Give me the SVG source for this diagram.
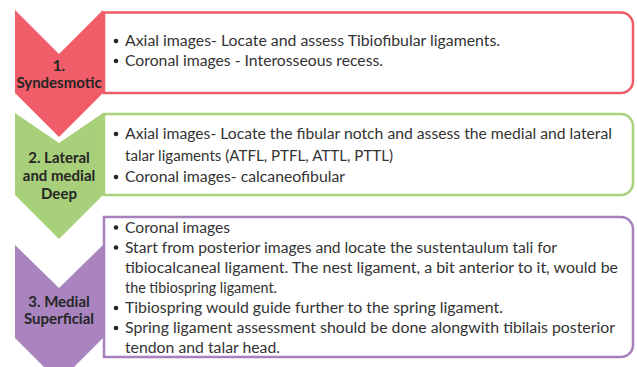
<svg xmlns="http://www.w3.org/2000/svg" width="637" height="367" viewBox="0 0 637 367">
<style>
.box{fill:#fff;stroke-width:2.5}
.body{font-family:Lato,"Liberation Sans",sans-serif;font-size:14.5px;fill:#333}
.lbl{font-family:Lato,"Liberation Sans",sans-serif;font-size:15px;font-weight:bold;fill:#262626;text-anchor:middle}
.dot{fill:#262626}
</style>
<rect width="637" height="367" fill="#fff"/>
<g id="step1">
<polygon points="15,10 59,54 103,10 103,93 59,137 15,93" fill="#F05C68"/>
<path class="box" stroke="#EF5B66" d="M104,12.5 H621 A12,12 0 0 1 633,24.5 V81 A12,12 0 0 1 621,93 H104 Z"/>
<text class="lbl" x="59" y="70.5">1.</text>
<text class="lbl" x="59" y="87.5">Syndesmotic</text>
<circle class="dot" cx="116" cy="41" r="2.3"/>
<circle class="dot" cx="116" cy="61" r="2.3"/>
<text class="body" x="125" y="46" textLength="375" lengthAdjust="spacingAndGlyphs">Axial images- Locate and assess Tibiofibular ligaments.</text>
<text class="body" x="125" y="66" textLength="258" lengthAdjust="spacingAndGlyphs">Coronal images - Interosseous recess.</text>
</g>
<g id="step2">
<polygon points="15,113 59,143 103,113 103,195 59,239 15,195" fill="#A8CF79"/>
<path class="box" stroke="#A9D17A" d="M104,114 H621 A12,12 0 0 1 633,126 V183 A12,12 0 0 1 621,195 H104 Z"/>
<text class="lbl" x="59" y="163">2. Lateral</text>
<text class="lbl" x="59" y="181">and medial</text>
<text class="lbl" x="59" y="199">Deep</text>
<circle class="dot" cx="116" cy="134" r="2.3"/>
<circle class="dot" cx="116" cy="177" r="2.3"/>
<text class="body" x="125" y="139" textLength="487" lengthAdjust="spacingAndGlyphs">Axial images- Locate the fibular notch and assess the medial and lateral</text>
<text class="body" x="125" y="160.5" textLength="268" lengthAdjust="spacingAndGlyphs">talar ligaments (ATFL, PTFL, ATTL, PTTL)</text>
<text class="body" x="125" y="182" textLength="220" lengthAdjust="spacingAndGlyphs">Coronal images- calcaneofibular</text>
</g>
<g id="step3">
<polygon points="15,245 59,288 103,245 103,338 59,382 15,338" fill="#A984BF"/>
<path class="box" stroke="#A781BD" d="M104,217 H621 A12,12 0 0 1 633,229 V345 A12,12 0 0 1 621,357 H104 Z"/>
<text class="lbl" x="59" y="306.5">3. Medial</text>
<text class="lbl" x="59" y="324">Superficial</text>
<circle class="dot" cx="116" cy="227.5" r="2.3"/>
<circle class="dot" cx="116" cy="247.5" r="2.3"/>
<circle class="dot" cx="116" cy="308" r="2.3"/>
<circle class="dot" cx="116" cy="328" r="2.3"/>
<text class="body" x="125" y="232.5" textLength="105" lengthAdjust="spacingAndGlyphs">Coronal images</text>
<text class="body" x="125" y="252.5" textLength="432" lengthAdjust="spacingAndGlyphs">Start from posterior images and locate the sustentaulum tali for</text>
<text class="body" x="125" y="272.7" textLength="493" lengthAdjust="spacingAndGlyphs">tibiocalcaneal ligament. The nest ligament, a bit anterior to it, would be</text>
<text class="body" x="125" y="292.7" textLength="152" lengthAdjust="spacingAndGlyphs">the tibiospring ligament.</text>
<text class="body" x="125" y="313" textLength="378" lengthAdjust="spacingAndGlyphs">Tibiospring would guide further to the spring ligament.</text>
<text class="body" x="125" y="333" textLength="490" lengthAdjust="spacingAndGlyphs">Spring ligament assessment should be done alongwith tibilais posterior</text>
<text class="body" x="125" y="353" textLength="155" lengthAdjust="spacingAndGlyphs">tendon and talar head.</text>
</g>
</svg>
